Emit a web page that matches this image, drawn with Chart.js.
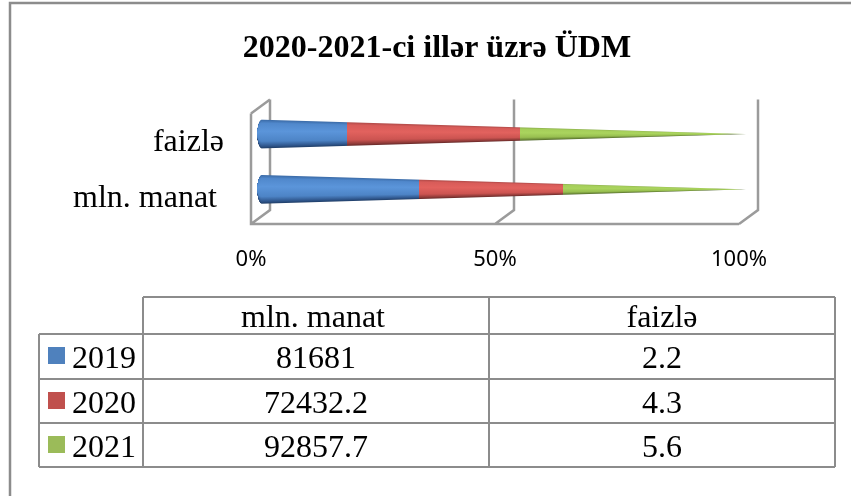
<!DOCTYPE html>
<html>
<head>
<meta charset="utf-8">
<script src="https://cdn.jsdelivr.net/npm/chart.js@4"></script>
<style>
html,body{margin:0;padding:0;background:#fff}
#wrap{position:relative;width:851px;height:496px;overflow:hidden}
canvas{display:block}
</style>
</head>
<body>
<div id="wrap"><canvas id="c" width="851" height="496"></canvas></div>
<script>
const titleText = '2020-2021-ci illər üzrə ÜDM';
const categories = ['mln. manat', 'faizlə'];
const seriesNames = ['2019', '2020', '2021'];
const mlnManat = [81681, 72432.2, 92857.7];
const faizle = [2.2, 4.3, 5.6];
const mlnLabels = ['81681', '72432.2', '92857.7'];
const faizleLabels = ['2.2', '4.3', '5.6'];
const xTicks = [0, 50, 100];

const legendColors = ['#4f81bd', '#c0504d', '#9bbb59'];
const shades = [
  [[0,'#3a6aa6'],[0.12,'#5088cc'],[0.4,'#5b95da'],[0.75,'#4d84c6'],[0.92,'#2f568c'],[1,'#1f3d66']],
  [[0,'#b04a48'],[0.12,'#d85c59'],[0.4,'#e2625e'],[0.75,'#cc5451'],[0.92,'#8e3a38'],[1,'#642827']],
  [[0,'#8cb04c'],[0.12,'#a5ce5a'],[0.4,'#aad45e'],[0.75,'#98bf50'],[0.92,'#6c8a38'],[1,'#4e6528']]
];

const total = a => a.reduce((s, v) => s + v, 0);
const share = (a, i) => a[i] / total(a) * 100;

const SERIF = '"Liberation Serif","Times New Roman",serif';
const GRID = '#9b9b9b', LINE = '#8c8c8c';
const DEPTH_X = 19, DEPTH_Y = -14;
const CONE_X = 7, CONE_Y = -7, CAP = 5;

const framePlugin = {
  id: 'frame',
  beforeDraw(chart) {
    const c = chart.ctx;
    c.save();
    c.fillStyle = '#fff';
    c.fillRect(0, 0, chart.width, chart.height);
    c.strokeStyle = LINE;
    c.lineWidth = 2.5;
    c.beginPath();
    c.moveTo(851, 3); c.lineTo(10, 3); c.lineTo(10, 496);
    c.stroke();
    c.restore();
  }
};

const wallsPlugin = {
  id: 'walls',
  beforeDatasetsDraw(chart) {
    const c = chart.ctx, x = chart.scales.x, a = chart.chartArea;
    c.save();
    c.strokeStyle = GRID;
    c.lineWidth = 2.5;
    c.beginPath();
    c.moveTo(a.left, a.top); c.lineTo(a.left, a.bottom); c.lineTo(a.right, a.bottom);
    c.moveTo(a.left, a.top); c.lineTo(a.left + DEPTH_X, a.top + DEPTH_Y);
    xTicks.forEach(v => {
      const px = x.getPixelForValue(v);
      c.moveTo(px, a.bottom);
      c.lineTo(px + DEPTH_X, a.bottom + DEPTH_Y);
      c.lineTo(px + DEPTH_X, a.top + DEPTH_Y);
    });
    c.stroke();
    c.restore();
  }
};

function columnGradient(c, stops, y0, y1) {
  const g = c.createLinearGradient(0, y0, 0, y1);
  stops.forEach(s => g.addColorStop(s[0], s[1]));
  return g;
}

const conePlugin = {
  id: 'cones',
  beforeDatasetDraw(chart, args) {
    const c = chart.ctx, x = chart.scales.x;
    const x0 = x.getPixelForValue(0) + CONE_X - 1, tip = x.getPixelForValue(100) + CONE_X;
    chart.getDatasetMeta(args.index).data.forEach(el => {
      const half = el.height / 2, cy = el.y + CONE_Y;
      const from = Math.round(args.index === 0 ? x0 : el.base + CONE_X), to = Math.round(el.x + CONE_X);
      for (let px = from; px < to; px++) {
        let hy = half * Math.max(0, 1 - (px + 0.5 - x0) / (tip - x0));
        if (px + 0.5 < x0 + CAP) {
          const d = (x0 + CAP - px - 0.5) / CAP;
          hy *= Math.sqrt(Math.max(0, 1 - d * d));
        }
        if (hy <= 0) continue;
        c.fillStyle = columnGradient(c, shades[args.index], cy - hy, cy + hy);
        c.fillRect(px, cy - hy, 1, 2 * hy);
      }
    });
    return false;
  }
};

const tablePlugin = {
  id: 'dataTable',
  afterDraw(chart) {
    const c = chart.ctx;
    const xs = [39, 143, 489, 835], ys = [297, 334, 379, 423, 467];
    c.save();
    c.strokeStyle = LINE;
    c.lineWidth = 2;
    c.beginPath();
    c.moveTo(xs[1], ys[0]); c.lineTo(xs[3], ys[0]);
    ys.slice(1).forEach(y => { c.moveTo(xs[0], y); c.lineTo(xs[3], y); });
    c.moveTo(xs[0], ys[1]); c.lineTo(xs[0], ys[4]);
    xs.slice(1).forEach(v => { c.moveTo(v, ys[0]); c.lineTo(v, ys[4]); });
    c.stroke();

    c.fillStyle = '#000';
    c.font = '32px ' + SERIF;
    c.textBaseline = 'alphabetic';
    c.textAlign = 'center';
    c.fillText(categories[0], (xs[1] + xs[2]) / 2 - 3, 327);
    c.fillText(categories[1], (xs[2] + xs[3]) / 2, 327);
    seriesNames.forEach((name, i) => {
      const base = ys[i + 1] + 34;
      c.fillStyle = legendColors[i];
      c.fillRect(48, ys[i + 1] + 13, 17, 17);
      c.fillStyle = '#000';
      c.textAlign = 'left';
      c.fillText(name, 72, base);
      c.textAlign = 'center';
      c.fillText(mlnLabels[i], (xs[1] + xs[2]) / 2, base);
      c.fillText(faizleLabels[i], (xs[2] + xs[3]) / 2, base);
    });
    c.restore();
  }
};

const labelShiftPlugin = {
  id: 'labelShift',
  afterUpdate(chart) {
    const y = chart.scales.y;
    y.left = 0;
    const items = y.getLabelItems();
    items.forEach(it => { it.options.translation[1] += 2; });
    if (items[0]) items[0].options.translation[0] -= 7;
  }
};

new Chart(document.getElementById('c'), {
  type: 'bar',
  data: {
    labels: categories,
    datasets: seriesNames.map((name, i) => ({
      label: name,
      data: [share(mlnManat, i), share(faizle, i)],
      backgroundColor: legendColors[i],
      barThickness: 29
    }))
  },
  plugins: [framePlugin, wallsPlugin, conePlugin, tablePlugin, labelShiftPlugin],
  options: {
    indexAxis: 'y',
    responsive: false,
    animation: false,
    layout: { autoPadding: false, padding: { left: 135, right: 112, top: 0, bottom: 0 } },
    plugins: {
      legend: { display: false },
      tooltip: { enabled: false },
      title: {
        display: true,
        text: titleText,
        color: '#000',
        font: { family: SERIF, size: 32, weight: 'bold', lineHeight: 1.2 },
        padding: { top: 30, bottom: 45 }
      }
    },
    scales: {
      x: {
        stacked: true, min: 0, max: 100,
        afterFit(s) { s.height = 272; },
        grid: { display: false, drawTicks: false },
        border: { display: false },
        ticks: {
          stepSize: 50, padding: 23, maxRotation: 0,
          color: '#000',
          font: { family: '"Noto Sans"', size: 22 },
          callback: v => v + '%'
        }
      },
      y: {
        stacked: true, reverse: true,
        afterFit(s) { s.width = 116; },
        grid: { display: false, drawTicks: false },
        border: { display: false },
        ticks: {
          padding: 27, color: '#000',
          font: { family: SERIF, size: 32 }
        }
      }
    }
  }
});
</script>
</body>
</html>
